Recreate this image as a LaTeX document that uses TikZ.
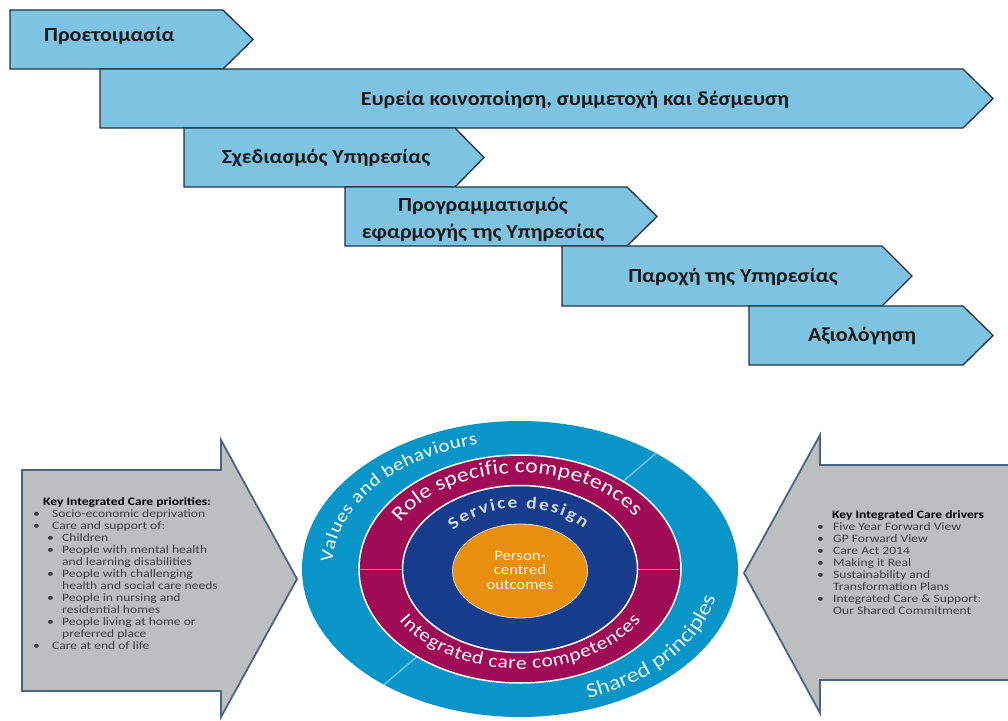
\documentclass[tikz,border=0pt]{standalone}
\usepackage{fontspec}
\setmainfont{Carlito}
\newfontfamily\stepfam[FakeStretch=1.1]{Carlito}
\newfontfamily\listfam[FakeStretch=1.2]{Carlito}
\newfontfamily\ringfam[FakeStretch=1.15]{Carlito}
\usetikzlibrary{decorations.text}

\definecolor{stepfill}{HTML}{7EC4E2}
\definecolor{stepline}{HTML}{1F3142}
\definecolor{greyfill}{HTML}{BCBEC0}
\definecolor{greyline}{HTML}{4B6588}
\definecolor{ringcyan}{HTML}{0A95C8}
\definecolor{ringmag}{HTML}{A00B55}
\definecolor{ringnavy}{HTML}{173C8C}
\definecolor{ringorange}{HTML}{E88F10}
\definecolor{listgrey}{HTML}{3C3C3C}

% one chevron bar of the timeline: left, top, bottom, body end, tip
\newcommand\stepbar[5]{%
  \draw[stepshape] (#1,#2) -- (#4,#2) -- (#5,{(#2+#3)/2}) -- (#4,#3) -- (#1,#3) -- cycle;}
\newcommand\bulA{\makebox[19pt][l]{•}}
\newcommand\bulB{\hspace{14pt}\makebox[15pt][l]{•}}
\newcommand\contB{\hspace{29pt}}
\newcommand\bulR{\makebox[16pt][l]{•}}
\newcommand\ringfont[1]{\ringfam\fontsize{#1}{22}\selectfont\color{white}}

\tikzset{
  stepshape/.style={fill=stepfill, draw=stepline, line width=1.3pt, line join=miter},
  steptext/.style={font=\stepfam\fontsize{20}{24}\selectfont\bfseries, text=black!90, inner sep=0pt, align=center},
  greyarrow/.style={fill=greyfill, draw=greyline, line width=1.8pt, line join=miter},
  listtext/.style={font=\listfam\fontsize{11.3}{12}\selectfont, text=listgrey, inner sep=0pt, align=left, anchor=north west},
}

\begin{document}
\begin{tikzpicture}[x=1pt,y=1pt]
\useasboundingbox (0,0) rectangle (1008,720);

% ---- timeline chevrons ----
\stepbar{10}{710}{651}{223}{253}
\stepbar{100}{651}{592}{963}{993}
\stepbar{184}{592}{533}{455}{484}
\stepbar{345}{533}{474}{627}{657}
\stepbar{562}{474}{414}{882}{912}
\stepbar{749}{414}{355}{963}{993}

\node[steptext, anchor=west] (p1) at (44,684) {Προετοιμασία};
\node[steptext] (p2) at (575,620) {Ευρεία κοινοποίηση, συμμετοχή και δέσμευση};
\node[steptext] (p3) at (326,562) {Σχεδιασμός Υπηρεσίας};
\node[steptext, font=\stepfam\fontsize{20}{27}\selectfont\bfseries] (p4) at (483,501) {Προγραμματισμός\\εφαρμογής της Υπηρεσίας};
\node[steptext] (p5) at (733,443) {Παροχή της Υπηρεσίας};
\node[steptext] (p6) at (862,384) {Αξιολόγηση};

% ---- side block arrows ----
\draw[greyarrow] (22,250) -- (221,250) -- (221,280) -- (297,141) -- (221,3) -- (221,29) -- (22,29) -- cycle;
\draw[greyarrow] (1014,255) -- (820,255) -- (820,285) -- (744,147) -- (820,7) -- (820,40) -- (1014,40) -- cycle;

\node[listtext] (prio) at (33,223) {%
  \hspace{10pt}{\color{black}\bfseries Key Integrated Care priorities:}\\
  \bulA Socio-economic deprivation\\
  \bulA Care and support of:\\
  \bulB Children\\
  \bulB People with mental health\\
  \contB and learning disabilities\\
  \bulB People with challenging\\
  \contB health and social care needs\\
  \bulB People in nursing and\\
  \contB residential homes\\
  \bulB People living at home or\\
  \contB preferred place\\
  \bulA Care at end of life};

\node[listtext] (drivers) at (817,210) {%
  \hspace{15pt}{\color{black}\bfseries Key Integrated Care drivers}\\
  \bulR Five Year Forward View\\
  \bulR GP Forward View\\
  \bulR Care Act 2014\\
  \bulR Making it Real\\
  \bulR Sustainability and\\
  \hspace{16pt}Transformation Plans\\
  \bulR Integrated Care \& Support:\\
  \hspace{16pt}Our Shared Commitment};

% ---- concentric rings ----
\coordinate (C) at (520,151);
\fill[ringcyan] (C) ellipse [x radius=218, y radius=148];
\begin{scope}
  \clip (C) ellipse [x radius=218, y radius=148];
  \draw[color=ringcyan!60!white, line width=1.6pt] (329.6,-11) -- (710.4,313);
\end{scope}
\filldraw[fill=ringmag, draw=white, line width=1.5pt] (C) ellipse [x radius=161, y radius=114];
\draw[color=ringmag!55!white, line width=1pt] (359,151) -- (679,151);
\filldraw[fill=ringnavy, draw=white, line width=1.5pt] (C) ellipse [x radius=117.5, y radius=83.5];
\filldraw[fill=ringorange, draw=white!85!ringnavy, line width=0.8pt] (520,149) ellipse [x radius=67.5, y radius=47];

\node[font=\ringfam\fontsize{14.5}{14.5}\selectfont, text=orange!8!white, align=center, inner sep=0pt] (pco) at (520,150) {Person-\\centred\\outcomes};

% ring captions along the arcs
\path[decorate, decoration={text along path, text align=fit to path, text={|\ringfont{18}|Values and behaviours}}]
  ([shift={(520,151)}]177:188 and 128) arc[start angle=177, end angle=103, x radius=188, y radius=128];
\path[decorate, decoration={text along path, text align=fit to path, text={|\ringfont{20.5}|Role specific competences}}]
  ([shift={(520,151)}]151:137 and 96) arc[start angle=151, end angle=33, x radius=137, y radius=96];
\path[decorate, decoration={text along path, text align=fit to path,
    text={|\ringfam\fontsize{17}{18}\selectfont\bfseries\color{ringnavy!20!white}|Service design}}]
  ([shift={(520,151)}]141:86 and 61) arc[start angle=141, end angle=42, x radius=86, y radius=61];
\path[decorate, decoration={text along path, text align=fit to path, text={|\ringfont{18.5}|Integrated care competences}}]
  ([shift={(520,151)}]211:141 and 100) arc[start angle=211, end angle=329, x radius=141, y radius=100];
\path[decorate, decoration={text along path, text align=fit to path, text={|\ringfont{21}\color{ringcyan!12!white}|Shared principles}}]
  ([shift={(520,151)}]-70:200 and 138) arc[start angle=-70, end angle=-12, x radius=200, y radius=138];
\end{tikzpicture}
\end{document}
